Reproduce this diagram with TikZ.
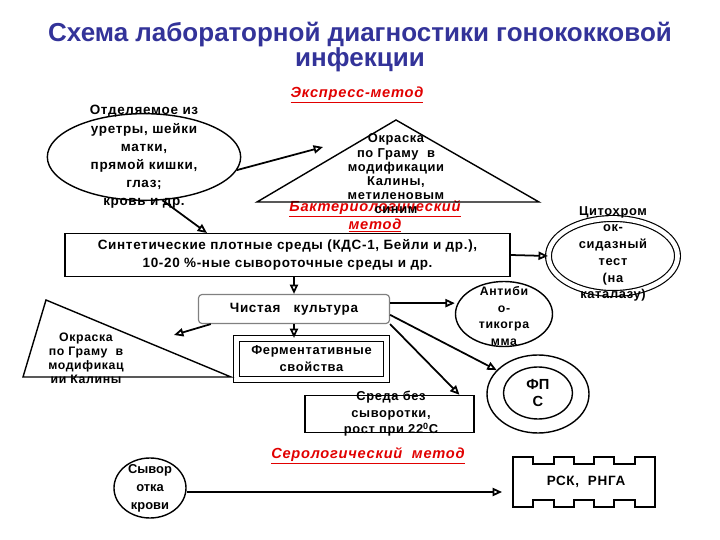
\documentclass[tikz,border=0pt]{standalone}
\usepackage{fontspec}
\setmainfont{Liberation Sans}
\newfontfamily\widefont[LetterSpace=5]{Liberation Sans}
\usetikzlibrary{arrows.meta,shapes.geometric,positioning}

\definecolor{ttlblue}{RGB}{51,51,153}
\definecolor{mthred}{RGB}{225,0,0}
\definecolor{edgegray}{RGB}{128,128,128}

\tikzset{
  txt/.style={font=\widefont\bfseries\fontsize{11.5}{15.5}\selectfont, align=center, inner sep=0pt},
  mth/.style={font=\widefont\bfseries\itshape\fontsize{12.5}{15.3}\selectfont, text=mthred, align=center, inner sep=0pt},
  oval/.style={draw, ellipse, line width=1.2pt, inner sep=0pt},
  frame/.style={draw, rectangle, line width=1.2pt, inner sep=0pt},
  arr/.style={-{Triangle[open, length=8pt, width=7pt]}, line width=1.5pt},
}

\begin{document}
\begin{tikzpicture}[x=0.03cm, y=-0.03cm]
\useasboundingbox (0,0) rectangle (720,540);

\node [font=\bfseries\fontsize{22.2}{22}\selectfont, text=ttlblue, align=center] (title) at (360,47) {Схема лабораторной диагностики гонококковой\\инфекции};

\node [mth] (express) at (357,95) {\underline{Экспресс-метод}};
\node [mth] (bacter) at (375,216) {\underline{Бактериологический}\\\underline{метод}};
\node [mth] (serol) at (368,456) {\underline{Серологический\ \ метод}};

% material
\node [oval, minimum width=5.8cm, minimum height=2.6cm] (spec) at (144,157) {};
\node [txt, font=\widefont\bfseries\fontsize{11.5}{15.5}\selectfont] (spectxt) at (144,157) {Отделяемое из\\уретры, шейки\\матки,\\прямой кишки,\\глаз;\\кровь и др.};

% express
\coordinate (ex1) at (396,120);
\coordinate (ex2) at (257,202);
\coordinate (ex3) at (539,202);
\draw [line width=1.2pt] (ex1) -- (ex2) -- (ex3) -- cycle;
\node [txt, font=\widefont\bfseries\fontsize{11}{12.1}\selectfont] (extxt) at (396,174) {Окраска\\по Граму~~в\\модификации\\Калины,\\метиленовым\\синим};
\coordinate (exin) at (323,147);
\draw [arr] (spec.-8) -- (exin);

% bacteriological
\coordinate (synin) at (207,233);
\draw [arr] (spec.-67) -- (synin);
\node [frame, txt, minimum width=13.35cm, minimum height=1.29cm] (synth) at (287.5,255) {Синтетические плотные среды (КДС-1, Бейли и др.),\\10-20~\%-ные сывороточные среды и др.};

\node [oval, double, double distance=4pt, line width=1pt, minimum width=3.87cm, minimum height=2.25cm] (cyto) at (613,256) {};
\node [txt, font=\widefont\bfseries\fontsize{11}{14.3}\selectfont] (cytotxt) at (613,254) {Цитохром\\ок-\\сидазный\\тест\\(на\\каталазу)};
\draw [arr] (synth.east) -- (cyto.west);

\node [txt, draw=edgegray, line width=1pt, rounded corners=3pt, fill=white, minimum width=5.73cm, minimum height=0.87cm] (pure) at (294,309) {Чистая\ \ \ культура};
\draw [arr] (pure.north |- synth.south) -- (pure.north);

\node [frame, txt, double, double distance=4pt, line width=1pt, minimum width=4.5cm, minimum height=1.23cm, font=\widefont\bfseries\fontsize{11}{14.5}\selectfont] (ferm) at (311.5,359) {Ферментативные\\свойства};
\draw [arr] (pure.south) -- (pure.south |- ferm.north);

% gram stain
\coordinate (lg1) at (46,300);
\coordinate (lg2) at (23,377);
\coordinate (lg3) at (231,377);
\draw [line width=1.2pt] (lg1) -- (lg2) -- (lg3) -- cycle;
\node [txt, font=\widefont\bfseries\fontsize{10.5}{11.9}\selectfont] (lgtxt) at (86,358) {Окраска\\по~Граму~~в\\модификац\\ии Калины};
\coordinate (lgin) at (174,335);
\draw [arr] ([xshift=11pt]pure.south west) -- (lgin);

\node [oval, minimum width=2.91cm, minimum height=1.95cm] (anti) at (504,314) {};
\node [txt, font=\widefont\bfseries\fontsize{10.5}{14.2}\selectfont] (antitxt) at (504,316) {Антиби\\о-\\тикогра\\мма};
\draw [arr] ([yshift=5pt]pure.east) -- ([yshift=5pt]pure.east -| anti.west);

\node [oval, minimum width=3.06cm, minimum height=2.34cm] (fps) at (538,394) {};
\node [oval, minimum width=2.07cm, minimum height=1.56cm] (fpsin) at (538,393) {};
\node [txt, font=\bfseries\fontsize{12.5}{15}\selectfont] (fpstxt) at (fpsin) {ФП\\С};
\draw [arr] ([yshift=-5pt]pure.east) -- (fps.150);

\node [frame, minimum width=5.07cm, minimum height=1.11cm] (sreda) at (389.5,414) {};
\node [txt, font=\widefont\bfseries\fontsize{11}{14}\selectfont] (sredatxt) at (391,414) {Среда без\\сыворотки,\\рост при 22\textsuperscript{0}С};
\draw [arr] (pure.south east) -- ([xshift=-13pt]sreda.north east);

% serological
\node [oval, minimum width=2.16cm, minimum height=1.8cm] (serum) at (150,488) {};
\node [txt, font=\bfseries\fontsize{11}{15.5}\selectfont] (serumtxt) at (serum) {Сывор\\отка\\крови};
\node [txt, font=\widefont\bfseries\fontsize{11.5}{14}\selectfont] (rsk) at (586,482) {РСК,~~РНГА};
\draw [line width=1.2pt] (513,457) -- (533,457) -- (533,464) -- (554,464) -- (554,457)
  -- (574,457) -- (574,464) -- (594,464) -- (594,457) -- (614,457) -- (614,464)
  -- (635,464) -- (635,457) -- (655,457) -- (655,507) -- (635,507) -- (635,500)
  -- (614,500) -- (614,507) -- (594,507) -- (594,500) -- (574,500) -- (574,507)
  -- (554,507) -- (554,500) -- (533,500) -- (533,507) -- (513,507) -- cycle;
\coordinate (serin) at (502,492);
\draw [arr] (serum.east |- serin) -- (serin);
\end{tikzpicture}
\end{document}
